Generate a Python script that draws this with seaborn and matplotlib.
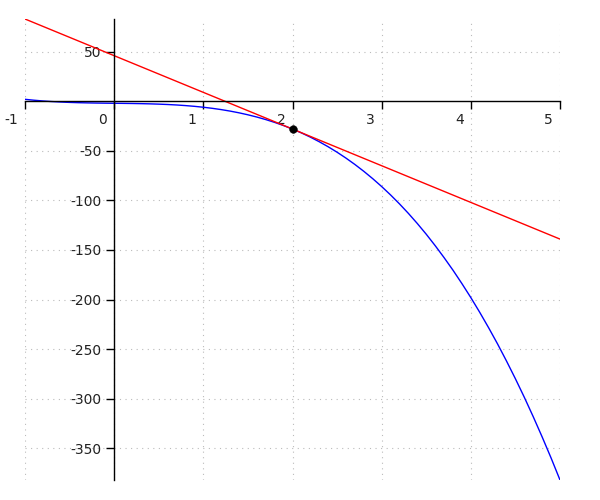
import matplotlib
matplotlib.use("Agg")
import matplotlib.pyplot as plt
import matplotlib.transforms as mtransforms
import seaborn as sns
import pandas as pd

# Curve values
curve_x = [-1.0, -0.9, -0.8, -0.7, -0.6, -0.5, -0.4, -0.3, -0.2, -0.1,
           0.0, 0.1, 0.2, 0.3, 0.4, 0.5, 0.6, 0.7, 0.8, 0.9,
           1.0, 1.1, 1.2, 1.3, 1.4, 1.5, 1.6, 1.7, 1.8, 1.9,
           2.0, 2.1, 2.2, 2.3, 2.4, 2.5, 2.6, 2.7, 2.8, 2.9,
           3.0, 3.1, 3.2, 3.3, 3.4, 3.5, 3.6, 3.7, 3.8, 3.9,
           4.0, 4.1, 4.2, 4.3, 4.4, 4.5, 4.6, 4.7, 4.8, 4.9, 5.0]
curve_y = [2.0, 1.09, 0.34, -0.27, -0.75, -1.13, -1.41, -1.62, -1.78, -1.90,
           -2.0, -2.10, -2.22, -2.38, -2.59, -2.88, -3.25, -3.73, -4.34, -5.09,
           -6.0, -7.09, -8.38, -9.89, -11.63, -13.63, -15.89, -18.44, -21.30, -24.48,
           -28.0, -31.88, -36.14, -40.80, -45.87, -51.38, -57.33, -63.75, -70.66, -78.07,
           -86.0, -94.47, -103.5, -113.1, -123.3, -134.1, -145.6, -157.7, -170.4, -183.9,
           -198.0, -212.9, -228.5, -244.8, -262.0, -279.9, -298.6, -318.2, -338.6, -359.8, -382.0]

# Tangent line endpoints
tangent_x = [-1.0, 5.0]
tangent_y = [83.0, -139.0]

# Point of tangency
point_x = [2.0]
point_y = [-28.0]

x_ticks = [-1, 0, 1, 2, 3, 4, 5]
y_ticks = [50, -50, -100, -150, -200, -250, -300, -350]

sns.set_style("white")
plt.rcParams['font.family'] = ['DejaVu Sans']
plt.rcParams['axes.unicode_minus'] = False

fig = plt.figure(figsize=(6, 5), dpi=100)
ax = fig.add_axes([25/600, 20/500, 535/600, 461/500])

df_curve = pd.DataFrame({"x": curve_x, "y": curve_y})
df_tan = pd.DataFrame({"x": tangent_x, "y": tangent_y})
df_pt = pd.DataFrame({"x": point_x, "y": point_y})

sns.lineplot(data=df_curve, x="x", y="y", ax=ax, color="#0000ff", linewidth=1.0, sort=False)
sns.lineplot(data=df_tan, x="x", y="y", ax=ax, color="#ff0000", linewidth=1.0, sort=False)
sns.scatterplot(data=df_pt, x="x", y="y", ax=ax, color="black", s=30, edgecolor="black", zorder=5)

ax.set_xlim(-1, 5)
ax.set_ylim(-382, 83)
ax.set_xlabel("")
ax.set_ylabel("")

ax.spines['left'].set_position(('data', 0))
ax.spines['bottom'].set_position(('data', 0))
ax.spines['top'].set_visible(False)
ax.spines['right'].set_visible(False)
for s in ('left', 'bottom'):
    ax.spines[s].set_color('black')
    ax.spines[s].set_linewidth(1.0)

ax.set_xticks(x_ticks)
ax.set_xticklabels([str(t) for t in x_ticks])
ax.set_yticks(y_ticks)
ax.set_yticklabels([str(t) for t in y_ticks])

ax.tick_params(axis='x', direction='out', length=6, width=1, color='black',
               labelsize=10, labelcolor='#222222', pad=2.5, bottom=True)
ax.tick_params(axis='y', direction='out', length=6, width=1, color='black',
               labelsize=10, labelcolor='#222222', pad=3, left=True)

offset = mtransforms.ScaledTranslation(-7/100, 0, fig.dpi_scale_trans)
for lab in ax.get_xticklabels():
    lab.set_horizontalalignment('right')
    lab.set_transform(lab.get_transform() + offset)

ax.grid(True, linestyle=(0, (1, 4)), color='#bbbbbb', linewidth=0.8)
ax.set_axisbelow(True)

fig.savefig("out.png", dpi=100)
